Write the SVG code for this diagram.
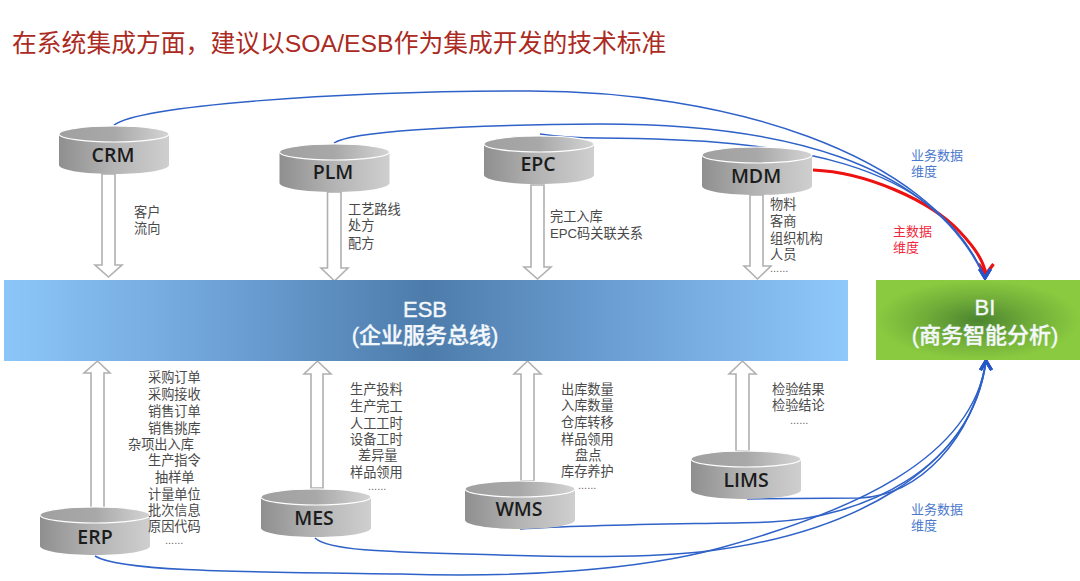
<svg xmlns="http://www.w3.org/2000/svg" width="1080" height="581" viewBox="0 0 1080 581">
<style>
text{font-family:"Liberation Sans","Noto Sans CJK SC",sans-serif}
.t{font-size:13.2px;fill:#4a4a4a}
.dots{font-size:11px;fill:#666}
.cy{font-family:"Open Sans","Liberation Sans",sans-serif;font-size:19.5px;font-weight:600;fill:#1c1c1c;text-anchor:middle}
.bl{font-size:13px;fill:#4a78cc}
.rd{font-size:13px;fill:#f0283c}
.big{font-size:22px;font-weight:500;fill:#f4f8fc;stroke:#f4f8fc;stroke-width:.35;text-anchor:middle}
.arr{fill:#fff;stroke:#b0b0b0;stroke-width:1.6}
.c{fill:none;stroke:#2f62c8;stroke-width:1.5}
</style>
<defs>
<linearGradient id="body" x1="0" x2="1" y1="0" y2="0"><stop offset="0" stop-color="#8f8f8f"/><stop offset=".5" stop-color="#b4b4b4"/><stop offset="1" stop-color="#cfcfcf"/></linearGradient>
<linearGradient id="top" x1="0" x2="1" y1="0" y2="0"><stop offset="0" stop-color="#a0a0a0"/><stop offset=".5" stop-color="#a8a8a8"/><stop offset="1" stop-color="#d4d4d4"/></linearGradient>
<linearGradient id="esb" x1="0" x2="1" y1="0" y2="0"><stop offset="0" stop-color="#8cc6f8"/><stop offset=".25" stop-color="#6fa3d8"/><stop offset=".5" stop-color="#4d7cab"/><stop offset=".75" stop-color="#6fa3d8"/><stop offset="1" stop-color="#8fc8fb"/></linearGradient>
<radialGradient id="bi" cx=".5" cy=".5" r=".5"><stop offset="0" stop-color="#4b8530"/><stop offset=".5" stop-color="#6fab38"/><stop offset="1" stop-color="#8aca40"/></radialGradient>
<g id="cyl">
<path d="M0 8V39C0 44 25 48 55 48S110 44 110 39V8Z" fill="url(#body)"/>
<ellipse cx="55" cy="8" rx="55" ry="8" fill="url(#top)" stroke="#fff" stroke-width="1.2"/>
</g>
<marker id="md" markerUnits="userSpaceOnUse" markerWidth="20" markerHeight="20" refX="14" refY="10" orient="90" viewBox="0 0 20 20"><path d="M5 4.500L14 10L5 15.500" fill="none" stroke="#2556c8" stroke-width="3"/></marker>
<marker id="mu" markerUnits="userSpaceOnUse" markerWidth="20" markerHeight="20" refX="14" refY="10" orient="-90" viewBox="0 0 20 20"><path d="M5 4.500L14 10L5 15.500" fill="none" stroke="#2556c8" stroke-width="3"/></marker>
<marker id="mr" markerUnits="userSpaceOnUse" markerWidth="28" markerHeight="28" refX="15" refY="14" orient="90" viewBox="0 0 28 28"><path d="M5 6.500L15 14L5 21.500" fill="none" stroke="#ee1111" stroke-width="3.200"/></marker>
</defs>
<rect width="1080" height="581" fill="#fff"/>
<text x="12" y="52" style="font-size:24.8px;fill:#ab2a22">在系统集成方面，建议以SOA/ESB作为集成开发的技术标准</text>

<g id="connectors">
<path class="arr" d="M102 174H115V265H122L108.500 277L95 265H102Z"/>
<path class="arr" d="M327.500 192H341V268H348L334.500 281L321 268H327.500Z"/>
<path class="arr" d="M531 185H544V267H551L537.500 279L524 267H531Z"/>
<path class="arr" d="M750 195H763V266H771L757.500 279L744 266H750Z"/>
<path class="arr" d="M91 509V373H84L97.500 361L110 373H104V509Z"/>
<path class="arr" d="M311 488V374H304L317.500 361L331 374H323V488Z"/>
<path class="arr" d="M521 481V374H514L527.500 361L541 374H534V481Z"/>
<path class="arr" d="M736 451V374H729L742.500 361L756 374H749V451Z"/>
<path d="M813 170C865 172 930 200 960 232C975 248 983 260 986 274" fill="none" stroke="#ee1111" stroke-width="3" marker-end="url(#mr)"/>
<path class="c" d="M114 125C140 106 330 91 530 91C720 91 930 150 985 278" marker-end="url(#md)"/>
<path class="c" d="M334 143C350 132 450 125 600 124C780 124 930 160 985 278" marker-end="url(#md)"/>
<path class="c" d="M540 134C560 137 580 138 600 138C790 139 935 160 985 278" marker-end="url(#md)"/>
<path class="c" d="M747 499L860 498C920 495 972 440 986 361" marker-end="url(#mu)"/>
<path class="c" d="M520 529C600 524 700 524 770 522C860 518 972 470 986 361" marker-end="url(#mu)"/>
<path class="c" d="M315 538C330 552 400 552 500 555C560 557 640 558 700 552C850 535 972 470 986 361" marker-end="url(#mu)"/>
<path class="c" d="M95 556C120 572 250 572 400 574C520 578 640 570 720 548C850 512 972 460 986 361" marker-end="url(#mu)"/>
</g>

<g id="esb-node"><rect x="4" y="280" width="844" height="81" fill="url(#esb)"/><text class="big" x="425" y="317">ESB</text><text class="big" x="425" y="343">(企业服务总线)</text></g>
<g id="bi-node"><rect x="876" y="280" width="204" height="80" fill="url(#bi)"/><text class="big" x="985" y="315">BI</text><text class="big" x="985" y="343">(商务智能分析)</text></g>

<g id="crm"><use href="#cyl" x="59" y="126"/><text class="cy" x="113" y="162">CRM</text></g>
<g id="plm"><use href="#cyl" x="279.500" y="144"/><text class="cy" x="333" y="179">PLM</text></g>
<g id="epc"><use href="#cyl" x="484" y="136"/><text class="cy" x="538" y="171">EPC</text></g>
<g id="mdm"><use href="#cyl" x="702" y="147"/><text class="cy" x="756" y="183">MDM</text></g>
<g id="erp"><use href="#cyl" x="40" y="507"/><text class="cy" x="95" y="544">ERP</text></g>
<g id="mes"><use href="#cyl" x="261" y="489"/><text class="cy" x="314" y="525">MES</text></g>
<g id="wms"><use href="#cyl" x="465" y="481"/><text class="cy" x="519" y="516">WMS</text></g>
<g id="lims"><use href="#cyl" x="691" y="451"/><text class="cy" x="746" y="487">LIMS</text></g>

<g id="labels">
<text class="t" x="134" y="217">客户</text><text class="t" x="134" y="233">流向</text>
<text class="t" x="348" y="214">工艺路线</text><text class="t" x="348" y="230">处方</text><text class="t" x="348" y="248">配方</text>
<text class="t" x="550" y="221">完工入库</text><text class="t" x="550" y="238">EPC码关联关系</text>
<text class="t" x="770" y="209">物料</text><text class="t" x="770" y="226">客商</text><text class="t" x="770" y="243">组织机构</text><text class="t" x="770" y="259">人员</text><text class="dots" x="770" y="272">......</text>
<text class="t" x="148" y="382">采购订单</text><text class="t" x="148" y="399">采购接收</text><text class="t" x="148" y="416">销售订单</text><text class="t" x="148" y="433">销售挑库</text><text class="t" x="128" y="449">杂项出入库</text><text class="t" x="148" y="465">生产指令</text><text class="t" x="155" y="482">抽样单</text><text class="t" x="148" y="499">计量单位</text><text class="t" x="148" y="515">批次信息</text><text class="t" x="148" y="531">原因代码</text><text class="dots" x="165" y="544">......</text>
<text class="t" x="350" y="394">生产投料</text><text class="t" x="350" y="411">生产完工</text><text class="t" x="350" y="428">人工工时</text><text class="t" x="350" y="444">设备工时</text><text class="t" x="358" y="460">差异量</text><text class="t" x="350" y="477">样品领用</text><text class="dots" x="368" y="490">......</text>
<text class="t" x="561" y="394">出库数量</text><text class="t" x="561" y="410">入库数量</text><text class="t" x="561" y="427">仓库转移</text><text class="t" x="561" y="444">样品领用</text><text class="t" x="575" y="460">盘点</text><text class="t" x="561" y="476">库存养护</text><text class="dots" x="578" y="489">......</text>
<text class="t" x="772" y="394">检验结果</text><text class="t" x="772" y="410">检验结论</text><text class="dots" x="790" y="424">......</text>
<text class="bl" x="911" y="160">业务数据</text><text class="bl" x="911" y="176">维度</text>
<text class="rd" x="893" y="236">主数据</text><text class="rd" x="893" y="252">维度</text>
<text class="bl" x="911" y="514">业务数据</text><text class="bl" x="911" y="530">维度</text>
</g>
</svg>
